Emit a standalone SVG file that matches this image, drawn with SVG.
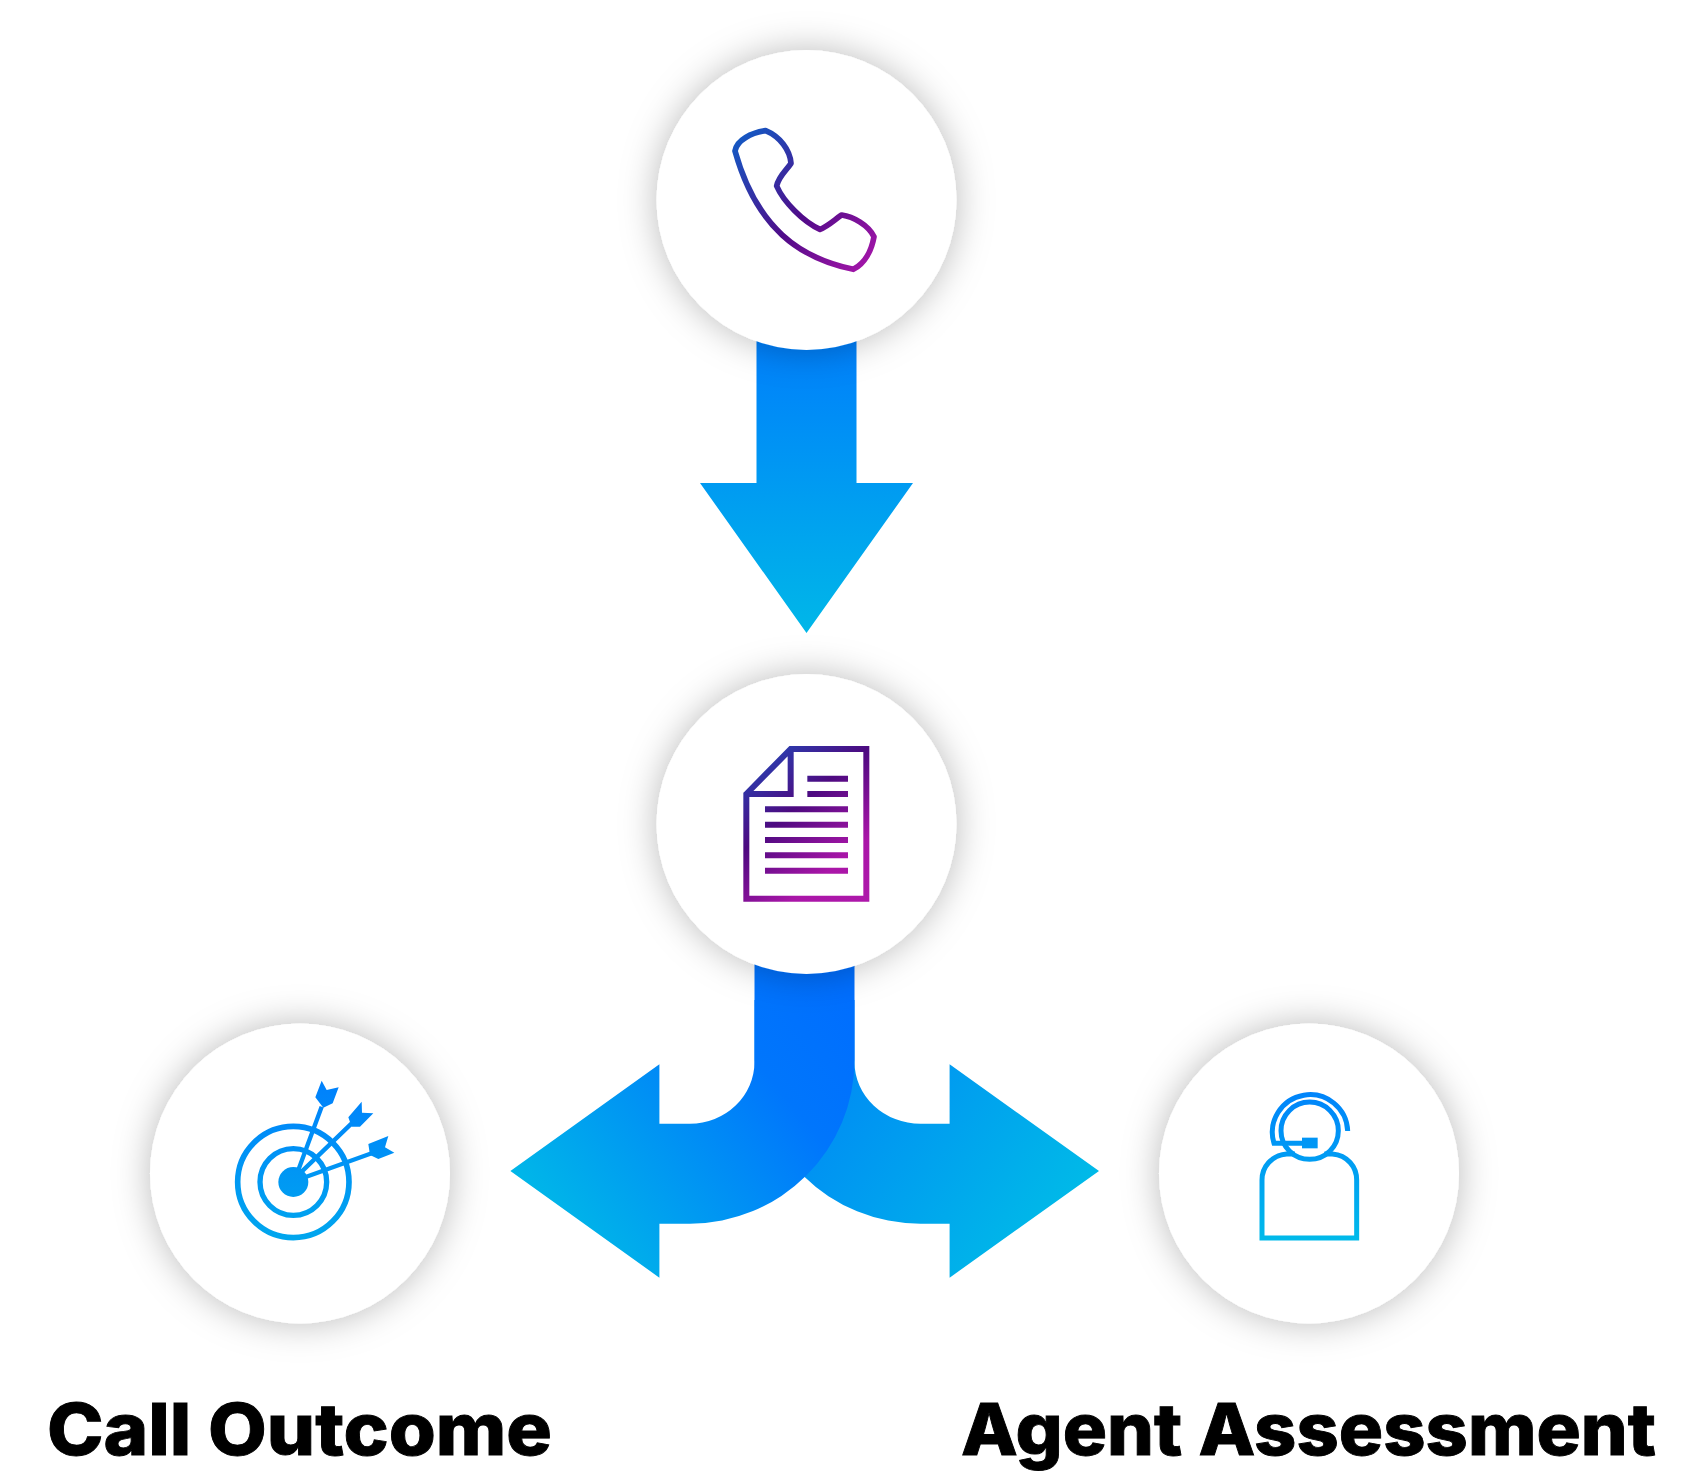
<svg xmlns="http://www.w3.org/2000/svg" width="1705" height="1480" viewBox="0 0 1705 1480">
<style>
.disc{fill:#fff;filter:url(#sh)}
.lbl{font-family:"Inter","Liberation Sans",sans-serif;font-weight:800;fill:#000;stroke:#000;stroke-width:.9;font-size:72px}
</style>
<defs>
<filter id="sh" x="-30%" y="-30%" width="160%" height="160%"><feDropShadow dx="0" dy="0" stdDeviation="18" flood-color="#000" flood-opacity=".27"/></filter>
<linearGradient id="gDown" gradientUnits="userSpaceOnUse" x1="806" y1="340" x2="806" y2="633"><stop offset="0" stop-color="#007ffb"/><stop offset="1" stop-color="#00b7e8"/></linearGradient>
<linearGradient id="gLeft" gradientUnits="userSpaceOnUse" x1="860" y1="1010" x2="570" y2="1250"><stop offset="0" stop-color="#006efe"/><stop offset=".3" stop-color="#0076fc"/><stop offset="1" stop-color="#00b8e8"/></linearGradient>
<linearGradient id="gRight" gradientUnits="userSpaceOnUse" x1="790" y1="1050" x2="1040" y2="1240"><stop offset="0" stop-color="#0084f6"/><stop offset="1" stop-color="#00b9e8"/></linearGradient>
<linearGradient id="gPhone" gradientUnits="userSpaceOnUse" x1="340" y1="330" x2="770" y2="750"><stop offset="0" stop-color="#0f5fc8"/><stop offset=".55" stop-color="#500b88"/><stop offset="1" stop-color="#ac17ac"/></linearGradient>
<linearGradient id="gDoc" gradientUnits="userSpaceOnUse" x1="130" y1="110" x2="510" y2="575"><stop offset="0" stop-color="#1d4fc0"/><stop offset=".4" stop-color="#4d0a80"/><stop offset=".75" stop-color="#aa16a8"/><stop offset="1" stop-color="#ae18aa"/></linearGradient>
<linearGradient id="gTarget" gradientUnits="userSpaceOnUse" x1="350" y1="60" x2="330" y2="540"><stop offset="0" stop-color="#0080fc"/><stop offset="1" stop-color="#00a6ee"/></linearGradient>
<linearGradient id="gAgent" gradientUnits="userSpaceOnUse" x1="0" y1="60" x2="0" y2="512"><stop offset="0" stop-color="#0083fb"/><stop offset="1" stop-color="#00baea"/></linearGradient>
</defs>
<rect width="1705" height="1480" fill="#fff"/>
<g id="connectors">
<path id="arrow-down" fill="url(#gDown)" d="M756.500 320H856.500V483H913L806.500 633L700 483H756.500Z"/>
<path id="arrow-right" fill="url(#gRight)" d="M854.500 1062A66 61.700 0 0 0 920.600 1123.700H949.600V1064.300L1099 1171L949.600 1277.700V1223.700H920.600A166 164 0 0 1 754.500 1060V1000H854.500Z"/>
<path id="arrow-left" fill="url(#gLeft)" d="M754.500 950H854.500V1060A165 163.700 0 0 1 690 1223.700H659.400V1277.700L510.400 1171L659.400 1064.300V1123.700H690A64.500 62 0 0 0 754.500 1061.700Z"/>
</g>
<g id="node-call">
<circle class="disc" cx="806.500" cy="200" r="150"/>
<path transform="translate(620 20) scale(.33333)" fill="none" stroke="url(#gPhone)" stroke-width="17" stroke-linejoin="round" d="M345 393C350 360 395 338 437 332C480 350 510 390 513 430C500 450 475 470 470 498C490 545 550 605 600 628C625 618 645 598 665 585C700 590 745 615 762 650C755 690 735 730 700 748C540 715 410 625 345 393Z"/>
</g>
<g id="node-transcript">
<circle class="disc" cx="806.500" cy="824" r="150"/>
<g transform="translate(700 710) scale(.33333)" fill="none" stroke="url(#gDoc)" stroke-width="18">
<path d="M139 252L272 117H499V566.500H139ZM272 117V252H139"/>
<path d="M322 206H444M322 252H444M195 298H444M195 344H444M195 390H444M195 436H444M195 482H444"/>
</g>
</g>
<g id="node-outcome">
<circle class="disc" cx="300" cy="1173.500" r="150"/>
<g transform="translate(210 1060) scale(.33333)">
<g fill="none" stroke="url(#gTarget)">
<circle cx="250" cy="366" r="167" stroke-width="17"/>
<circle cx="250" cy="366" r="100" stroke-width="16"/>
<path stroke-width="13" d="M265 330L335 140M275 335L425 190M285 352L485 280"/>
</g>
<g fill="url(#gTarget)">
<circle cx="250" cy="366" r="45"/>
<path d="M335 62L350 90L386 82L368 130L340 143L316 112Z"/>
<path d="M455 125L456 158L490 160L450 200L425 200L415 172Z"/>
<path d="M535 228L525 262L553 278L505 297L480 285L475 252Z"/>
</g>
</g>
</g>
<g id="node-agent">
<circle class="disc" cx="1309" cy="1173.500" r="150"/>
<g transform="translate(1240 1070) scale(.33333)">
<g fill="none" stroke="url(#gAgent)" stroke-width="15">
<circle cx="209" cy="182" r="86"/>
<path d="M323 183A113 113 0 1 0 102 220H190"/>
<path d="M165 252H140C95 256 66 290 66 330V504H350V330C350 290 322 256 277 252H253"/>
</g>
<rect x="186" y="203" width="47" height="32" fill="url(#gAgent)"/>
</g>
</g>
<text class="lbl" x="47" y="1455" textLength="505" lengthAdjust="spacingAndGlyphs">Call Outcome</text>
<text class="lbl" x="961" y="1455" textLength="695" lengthAdjust="spacingAndGlyphs">Agent Assessment</text>
</svg>
